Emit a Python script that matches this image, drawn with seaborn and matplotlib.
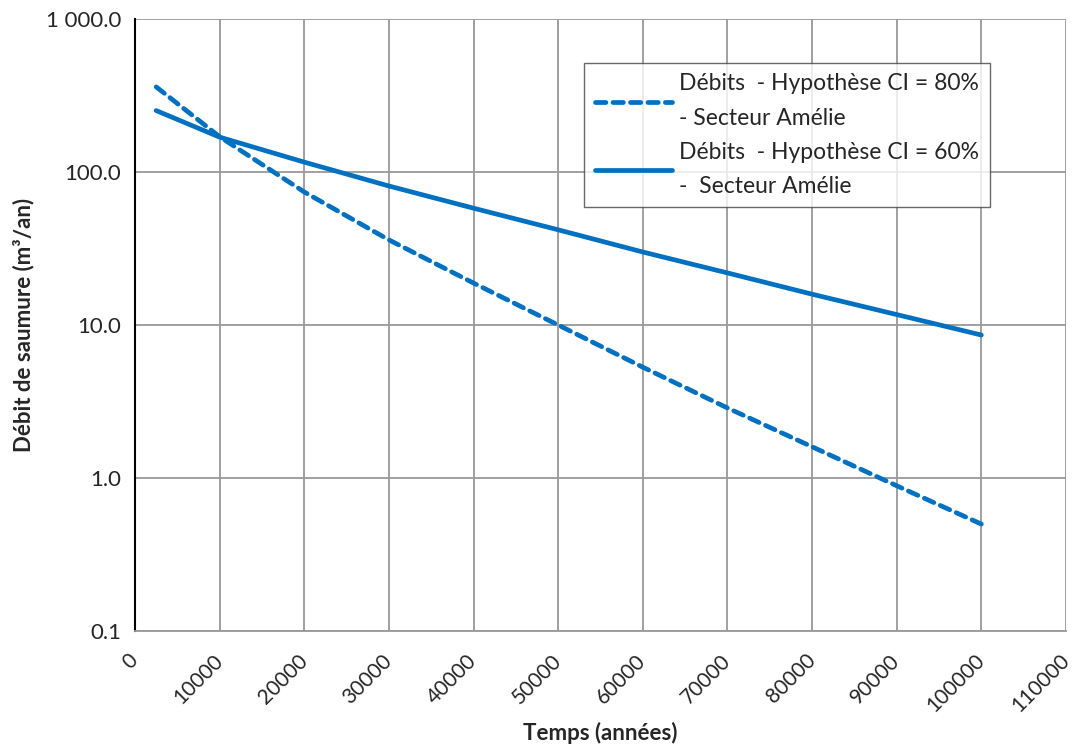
import pandas as pd
import matplotlib.pyplot as plt
import seaborn as sns

# données
temps = [2500, 10000, 20000, 30000, 40000, 50000, 60000, 70000, 80000, 90000, 100000]
debit_ci80 = [360, 170, 74, 36, 18.8, 10.0, 5.3, 2.87, 1.6, 0.89, 0.5]
debit_ci60 = [252, 169, 116, 81, 58, 41.9, 30, 21.9, 15.9, 11.7, 8.6]
label_ci80 = "Débits  - Hypothèse CI = 80%\n- Secteur Amélie"
label_ci60 = "Débits  - Hypothèse CI = 60%\n-  Secteur Amélie"
x_ticks = list(range(0, 110001, 10000))
y_ticks = [0.1, 1, 10, 100, 1000]
y_tick_labels = ["0.1", "1.0", "10.0", "100.0", "1 000.0"]

frame = pd.DataFrame({
    "Temps": temps * 2,
    "Debit": debit_ci80 + debit_ci60,
    "Serie": [label_ci80] * len(temps) + [label_ci60] * len(temps),
})

sns.set_style("white")
plt.rcParams['font.family'] = ['Lato', 'DejaVu Sans']

fig = plt.figure(figsize=(10.75, 7.45), dpi=100)
ax = fig.add_axes([0.1256, 0.153, 0.866, 0.8215])

sns.lineplot(data=frame, x="Temps", y="Debit", hue="Serie", style="Serie",
             palette=["#0070C0", "#0070C0"],
             dashes={label_ci80: (2.2, 1.5), label_ci60: ""},
             linewidth=3.4, ax=ax, legend=True)
for ln in ax.get_lines():
    ln.set_solid_capstyle("round")
    ln.set_dash_capstyle("round")

ax.set_yscale("log")
ax.set_ylim(0.1, 1000)
ax.set_xlim(0, 110000)
ax.set_yticks(y_ticks)
ax.set_yticklabels(y_tick_labels, fontsize=16)
ax.yaxis.set_minor_locator(plt.NullLocator())
ax.set_xticks(x_ticks)
ax.set_xticklabels([str(t) for t in x_ticks], rotation=45, ha="right", va="center",
                   rotation_mode="anchor", fontsize=15)

ax.grid(True, color="#999999", linewidth=1.3)
for side in ["top", "right"]:
    ax.spines[side].set_visible(False)
ax.spines["left"].set_color("black")
ax.spines["left"].set_linewidth(1.5)
ax.spines["bottom"].set_color("#999999")
ax.spines["bottom"].set_linewidth(1.3)
ax.tick_params(axis="y", direction="out", length=6, color="black", width=1.3, pad=4)
ax.tick_params(axis="x", direction="out", length=6, color="#999999", width=1.3, pad=13)

ax.set_xlabel("Temps (années)", fontsize=16, fontweight="bold", labelpad=4)
ax.set_ylabel("Débit de saumure (m³/an)", fontsize=16, fontweight="bold", labelpad=8)

leg = ax.legend(loc="upper left", bbox_to_anchor=(0.4825, 0.928), fontsize=16.5,
                frameon=True, fancybox=False, edgecolor="#444444",
                handlelength=3.4, handletextpad=0.3, labelspacing=0.55,
                borderpad=0.45, borderaxespad=0, title=None)
leg.get_frame().set_linewidth(1.0)
for t in leg.get_texts():
    t.set_linespacing(1.8)

plt.savefig("out.png", dpi=100)
